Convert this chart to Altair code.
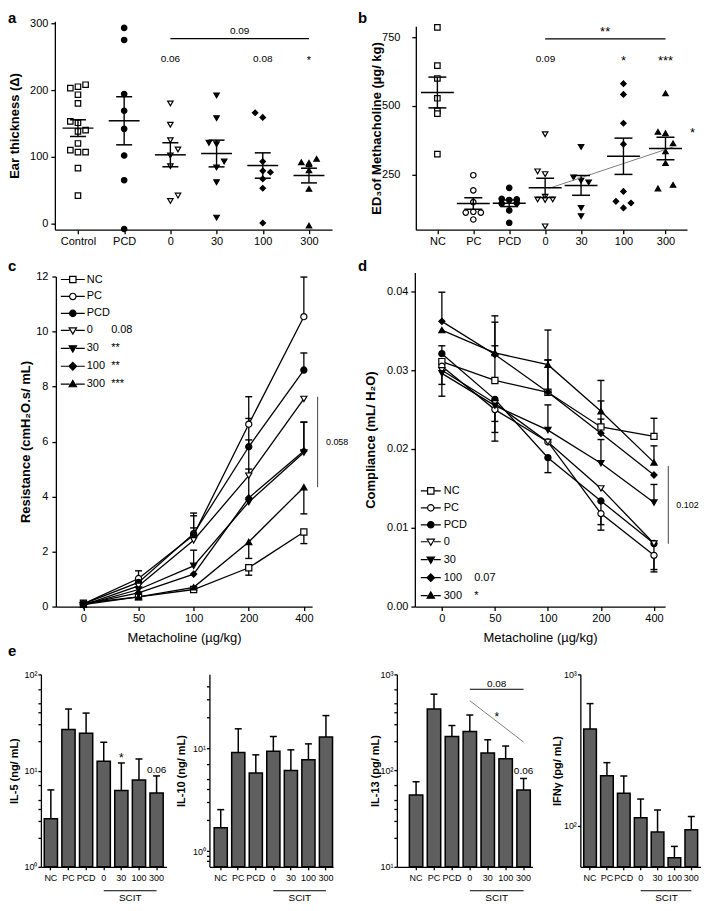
import math
import altair as alt
import pandas as pd

FONT = "Liberation Sans"
FSP = "\u2007"  # figure space (digit width), keeps legend stat columns aligned

# ---------------- panel a : ear thickness ----------------
a_groups = ["Control", "PCD", "0", "30", "100", "300"]
a_shapes = ["square", "circle", "triangle-down", "triangle-down", "diamond", "triangle-up"]
a_fills = ["white", "black", "white", "black", "black", "black"]
a_control = [203, 205, 208, 193, 180, 153, 151, 140, 138, 120, 110, 107, 107, 83, 42]
a_control_slot = [-1, 0, 1, 0, 0, -1, 0, 1, 0, 0, -1, 0, 1, 0, 0]
a_pcd = [293, 275, 194, 169, 142, 102, 65, -8]
a_pcd_slot = [0, 0, 0, 0, 0, 0, 0, 0]
a_d0 = [180, 148, 125, 111, 102, 86, 42, 34]
a_d0_slot = [0, 0, 0, 1, 0, 0, 1, 0]
a_d30 = [192, 158, 121, 119, 93, 84, 62, 9]
a_d30_slot = [0, 0, -1, 0, 1, 0, 0, 0]
a_d100 = [166, 159, 93, 79, 77, 67, 53, 1]
a_d100_slot = [-1, 0, 0, 0, 1, 0, 0, 0]
a_d300 = [92, 91, 97, 89, 80, 52, -3]
a_d300_slot = [-1, 0, 1, 0, 0, 0, 0]
a_mean = [143, 154, 103, 105, 87, 72]
a_sem = [12.5, 36, 18, 20, 19, 11]
a_notes = ["0.09", "0.06", "0.08", "*"]
a_note_x = [3.5, 2, 4, 5]
a_note_y = [289, 247, 247, 243]
a_note_fs = [10, 10, 10, 11]
a_bracket = [2, 5, 277]

# ---------------- panel b : ED3 of methacholine ----------------
b_groups = ["NC", "PC", "PCD", "0", "30", "100", "300"]
b_pos = [0, 1, 2, 3, 4, 5.18, 6.35]
b_shapes = ["square", "circle", "circle", "triangle-down", "triangle-down", "diamond", "triangle-up"]
b_fills = ["white", "white", "black", "white", "black", "black", "black"]
b_nc = [786, 647, 600, 528, 482, 472, 325]
b_nc_slot = [0, 0, 0, 0, 0, 0, 0]
b_pc = [248, 193, 150, 112, 115, 112, 87]
b_pc_slot = [0, 0, 0, -1, 0, 1, 0]
b_pcd = [202, 162, 160, 158, 145, 147, 120, 75]
b_pcd_slot = [0, -1, 1, 0, -1, 1, 0, 0]
b_d0 = [397, 262, 252, 170, 160, 158, 160, 62]
b_d0_slot = [0, -1, 0, 0, -1, 0, 1, 0]
b_d30 = [351, 240, 228, 222, 129, 99]
b_d30_slot = [0, -1, 0, 1, 0, 0]
b_d100 = [581, 542, 437, 361, 189, 153, 129, 147]
b_d100_slot = [0, 0, 0, 0, 0, -1, 0, 1]
b_d300 = [546, 406, 401, 364, 335, 292, 200, 213]
b_d300_slot = [0, -1, 0, 1, 0, 0, -1, 1]
b_mean = [549, 145, 146, 202, 211, 317, 345]
b_sem = [56, 21, 12, 35, 36, 66, 41]
b_notes = ["**", "0.09", "*", "***", "*"]
b_note_x = [4.67, 3.01, 5.18, 6.35, 7.1]
b_note_y = [770, 669, 662, 662, 402]
b_note_fs = [13, 10, 13, 13, 13]
b_bracket = [3, 6, 744]
b_trend_x = [3.1, 6.57]
b_trend_y = [200, 351]

# ---------------- panel c : resistance ----------------
doses = ["0", "50", "100", "200", "400"]
cd_groups = ["NC", "PC", "PCD", "0", "30", "100", "300"]
cd_shapes = ["square", "circle", "circle", "triangle-down", "triangle-down", "diamond", "triangle-up"]
cd_fills = ["white", "white", "black", "white", "black", "black", "black"]
c_nc = [0.12, 0.35, 0.62, 1.41, 2.71]
c_pc = [0.10, 1.02, 2.60, 6.63, 10.54]
c_pcd = [0.10, 0.88, 2.65, 5.81, 8.60]
c_d0 = [0.05, 0.75, 2.41, 4.76, 7.55]
c_d30 = [0.05, 0.62, 1.48, 3.80, 5.60]
c_d100 = [0.08, 0.50, 1.18, 3.95, 5.66]
c_d300 = [0.07, 0.35, 0.70, 2.35, 4.34]
c_nc_err = [0, 0, 0, -0.27, -0.42]
c_pc_err = [0, 0.28, 0.80, 1.00, 1.44]
c_pcd_err = [0, 0, 0.65, 1.03, 0.62]
c_d0_err = [0, 0, 0.45, 1.30, 0]
c_d30_err = [0, 0, 0.57, 1.20, 1.10]
c_d100_err = [0, 0, 0, 0, 1.05]
c_d300_err = [0, 0, 0, -0.60, -0.97]
c_leg_labels = ["NC", "PC", "PCD", "0" + FSP * 3 + "0.08", "30" + FSP * 2 + "**",
                "100" + FSP + "**", "300" + FSP + "***"]
c_sig_range = [4.34, 7.63]
c_sig_x = 4.25
c_sig_text = "0.058"

# ---------------- panel d : compliance ----------------
d_nc = [0.0311, 0.0287, 0.0272, 0.0228, 0.0216]
d_pc = [0.0305, 0.0250, 0.0209, 0.0118, 0.0065]
d_pcd = [0.0321, 0.0263, 0.0189, 0.0134, 0.0080]
d_d0 = [0.0300, 0.0258, 0.0209, 0.0150, 0.0080]
d_d30 = [0.0296, 0.0255, 0.0224, 0.0182, 0.0132]
d_d100 = [0.0362, 0.0320, 0.0272, 0.0220, 0.0167]
d_d300 = [0.0351, 0.0322, 0.0307, 0.0248, 0.0183]
d_nc_err = [0, 0.0044, 0.0041, 0.0010, 0.0023]
d_pc_err = [-0.0023, -0.0040, 0, -0.0021, -0.0021]
d_pcd_err = [0.0010, -0.0028, -0.0019, -0.0030, -0.0033]
d_d0_err = [0, -0.0037, 0, 0, 0]
d_d30_err = [-0.0029, 0, 0.0032, 0.0030, 0.0023]
d_d100_err = [0.0037, 0.0041, 0.0041, 0.0041, 0]
d_d300_err = [0, 0.0047, 0.0044, 0.0039, 0.0021]
d_leg_labels = ["NC", "PC", "PCD", "0", "30", "100" + FSP * 2 + "0.07", "300" + FSP * 2 + "*"]
d_sig_range = [0.00797, 0.01785]
d_sig_x = 4.27
d_sig_text = "0.102"

# ---------------- panel e : cytokines ----------------
e_cats = ["NC", "PC", "PCD", "0", "30", "100", "300"]
il5 = [3.16, 26.7, 24.5, 12.5, 6.2, 8.0, 5.85]
il5_top = [6.3, 43.6, 39.6, 19.7, 12.0, 13.2, 8.8]
il10 = [1.69, 9.09, 5.73, 9.35, 6.08, 7.71, 12.8]
il10_top = [2.53, 15.4, 8.61, 13.0, 9.63, 11.0, 20.7]
il13 = [55.7, 437, 226, 255, 152, 133, 62.8]
il13_top = [76.6, 622, 294, 378, 209, 180, 82.8]
ifng = [435, 214, 164, 113, 90.7, 61.3, 94.2]
ifng_top = [641, 261, 213, 150, 127, 73, 115]


def label_expr(names, positions):
    arr = ",".join("'%s'" % n for n in names)
    ps = ",".join(repr(float(p)) for p in positions)
    return "[%s][indexof([%s], datum.value)]" % (arr, ps)


def letter_layer(letter, lx, ly):
    return alt.Chart(pd.DataFrame({"t": [letter]})).mark_text(
        fontSize=15, fontWeight="bold", align="left", baseline="middle", font=FONT, color="black").encode(
        text="t:N", x=alt.value(lx), y=alt.value(ly))


def scatter_panel(groups, pos, shapes, fills, values, slots, jit, mean, sem,
                  xdom, xrange, ydom, yrange, yticks, ytitle, width, height, mean_len, cap_len, psize,
                  notes, note_x, note_y, note_fs, bracket, letter, lx, ly,
                  lab_pad, tit_pad, yoffset=0, trend=None):
    rows = []
    for g, p, vs, ss in zip(groups, pos, values, slots):
        for v, s in zip(vs, ss):
            rows.append({"grp": g, "x": p + s * jit, "v": v})
    df = pd.DataFrame(rows)
    st = pd.DataFrame({"x": pos, "v": mean,
                       "lo": [m - s for m, s in zip(mean, sem)],
                       "hi": [m + s for m, s in zip(mean, sem)]})
    nt = pd.DataFrame({"x": note_x, "v": note_y, "t": notes, "fs": note_fs})
    br = pd.DataFrame({"x": [pos[bracket[0]]], "x2": [pos[bracket[1]]], "v": [bracket[2]]})
    xs = alt.Scale(domain=xdom, nice=False, zero=False, range=xrange)
    ys = alt.Scale(domain=ydom, nice=False, zero=False, range=yrange)
    xax = alt.Axis(values=list(pos), labelExpr=label_expr(groups, pos), title=None,
                   labelOverlap=False, tickSize=4, labelPadding=2)
    yax = alt.Axis(values=yticks, title=ytitle, labelPadding=lab_pad, titlePadding=tit_pad, offset=yoffset)

    def X(f):
        return alt.X(f + ":Q", scale=xs, axis=xax)

    def Y(f):
        return alt.Y(f + ":Q", scale=ys, axis=yax)

    pts = alt.Chart(df).mark_point(size=psize, stroke="black", strokeWidth=1.2, opacity=1).encode(
        x=X("x"), y=Y("v"),
        shape=alt.Shape("grp:N", scale=alt.Scale(domain=groups, range=shapes), legend=None),
        fill=alt.Fill("grp:N", scale=alt.Scale(domain=groups, range=fills), legend=None))
    rule = alt.Chart(st).mark_rule(color="black", strokeWidth=1.4).encode(x=X("x"), y=Y("lo"), y2="hi:Q")
    mtick = alt.Chart(st).mark_tick(orient="horizontal", size=mean_len, thickness=1.5,
                                    color="black", opacity=1).encode(x=X("x"), y=Y("v"))
    lo_cap = alt.Chart(st).mark_tick(orient="horizontal", size=cap_len, thickness=1.5,
                                     color="black", opacity=1).encode(x=X("x"), y=Y("lo"))
    hi_cap = alt.Chart(st).mark_tick(orient="horizontal", size=cap_len, thickness=1.5,
                                     color="black", opacity=1).encode(x=X("x"), y=Y("hi"))
    brk = alt.Chart(br).mark_rule(color="black", strokeWidth=1.2).encode(x=X("x"), x2="x2:Q", y=Y("v"))
    txt = alt.Chart(nt).mark_text(color="black", font=FONT, baseline="middle").encode(
        x=X("x"), y=Y("v"), text="t:N", size=alt.Size("fs:Q", scale=None))
    layers = [pts]
    if trend is not None:
        td = pd.DataFrame({"x": trend[0], "v": trend[1]})
        layers.append(alt.Chart(td).mark_line(color="#808080", strokeWidth=1).encode(x=X("x"), y=Y("v")))
    layers += [rule, mtick, lo_cap, hi_cap, brk, txt, letter_layer(letter, lx, ly)]
    return alt.layer(*layers).properties(width=width, height=height)


def legend_paths(m, ext):
    def f(x):
        return ("%.3f" % x).rstrip("0").rstrip(".")
    L = "M%s,0H%sM%s,0H%s" % (f(-ext), f(-m), f(m), f(ext))
    sq = "M%s,%sH%sV%sH%sZ" % (f(-m), f(-m), f(m), f(m), f(-m))
    ci = "M%s,0A%s,%s 0 1,0 %s,0A%s,%s 0 1,0 %s,0Z" % (f(-m), f(m), f(m), f(m), f(m), f(m), f(-m))
    td = "M%s,%sH%sL0,%sZ" % (f(-1.15 * m), f(-0.8 * m), f(1.15 * m), f(1.15 * m))
    di = "M0,%sL%s,0L0,%sL%s,0Z" % (f(-1.2 * m), f(1.2 * m), f(1.2 * m), f(-1.2 * m))
    tu = "M%s,%sH%sL0,%sZ" % (f(-1.15 * m), f(0.8 * m), f(1.15 * m), f(-1.15 * m))
    return [L + sq, L + ci, L + ci, L + td, L + td, L + di, L + tu]


def curve_panel(series, errs, xdom, xrange, ydom, yrange, yticks, yfmt, ytitle, width, height,
                leg_labels, leg_x, leg_y, leg_ext, leg_laboff,
                sig_x, sig_range, sig_text, letter, lx, ly, lab_pad, tit_pad, yoffset=0):
    rows = []
    for g, vals, es in zip(cd_groups, series, errs):
        for i, (v, e) in enumerate(zip(vals, es)):
            rows.append({"grp": g, "x": i, "v": v, "top": v + e, "e": e})
    df = pd.DataFrame(rows)
    pos = list(range(len(doses)))
    xs = alt.Scale(domain=xdom, nice=False, zero=False, range=xrange)
    ys = alt.Scale(domain=ydom, nice=False, zero=False, range=yrange)
    xax = alt.Axis(values=pos, labelExpr=label_expr(doses, pos), title="Metacholine (\u00b5g/kg)",
                   titleFontWeight="normal", titleFontSize=13, labelOverlap=False,
                   tickSize=4, labelPadding=2, titlePadding=8)
    yax = alt.Axis(values=yticks, format=yfmt, title=ytitle, labelPadding=lab_pad,
                   titlePadding=tit_pad, offset=yoffset)

    def X(f):
        return alt.X(f + ":Q", scale=xs, axis=xax)

    def Y(f):
        return alt.Y(f + ":Q", scale=ys, axis=yax)

    lines = alt.Chart(df).mark_line(color="black", strokeWidth=1.3).encode(
        x=X("x"), y=Y("v"), detail="grp:N")
    edf = df[df["e"] != 0]
    ebar = alt.Chart(edf).mark_rule(color="black", strokeWidth=1.3).encode(x=X("x"), y=Y("v"), y2="top:Q")
    ecap = alt.Chart(edf).mark_tick(orient="horizontal", size=7, thickness=1.4, color="black",
                                    opacity=1).encode(x=X("x"), y=Y("top"))
    pts = alt.Chart(df).mark_point(size=38, stroke="black", strokeWidth=1.2, opacity=1).encode(
        x=X("x"), y=Y("v"),
        shape=alt.Shape("grp:N", scale=alt.Scale(domain=cd_groups, range=cd_shapes), legend=None),
        fill=alt.Fill("grp:N", scale=alt.Scale(domain=cd_groups, range=cd_fills), legend=None))
    leg = alt.Legend(orient="none", legendX=leg_x, legendY=leg_y, direction="vertical", title=None,
                     symbolSize=400, symbolStrokeWidth=1.2, symbolStrokeColor="black",
                     labelFont=FONT, labelFontSize=11, labelColor="black", labelOffset=leg_laboff,
                     rowPadding=0, padding=0,
                     labelExpr="[%s][indexof([%s], datum.label)]" % (
                         ",".join("'%s'" % s for s in leg_labels),
                         ",".join("'%s'" % s for s in cd_groups)))
    legl = alt.Chart(df).transform_filter("false").mark_point(strokeWidth=1.2, opacity=1).encode(
        x=X("x"), y=Y("v"),
        shape=alt.Shape("grp:N", scale=alt.Scale(domain=cd_groups, range=legend_paths(0.32, leg_ext)),
                        legend=leg),
        fill=alt.Fill("grp:N", scale=alt.Scale(domain=cd_groups, range=cd_fills), legend=leg),
        stroke=alt.Stroke("grp:N", scale=alt.Scale(domain=cd_groups, range=["black"] * 7), legend=leg))
    sdf = pd.DataFrame({"x": [sig_x], "v": [sig_range[0]], "v2": [sig_range[1]],
                        "tx": [sig_x + 0.15], "tv": [(sig_range[0] + sig_range[1]) / 2], "t": [sig_text]})
    srule = alt.Chart(sdf).mark_rule(color="#444444", strokeWidth=1).encode(x=X("x"), y=Y("v"), y2="v2:Q")
    stext = alt.Chart(sdf).mark_text(align="left", baseline="middle", fontSize=9, color="black").encode(
        x=X("tx"), y=Y("tv"), text="t:N")
    return alt.layer(lines, ebar, ecap, pts, legl, srule, stext, letter_layer(letter, lx, ly)).resolve_scale(
        shape="independent", fill="independent", stroke="independent").properties(width=width, height=height)


SUP = {0: "\u2070", 1: "\u00b9", 2: "\u00b2", 3: "\u00b3"}


def log_label_expr(majors):
    parts = ["datum.value == %s ? '10%s'" % (repr(m), SUP[int(round(math.log10(m)))]) for m in majors]
    return " : ".join(parts) + " : ''"


E_H = 193


def bar_panel(vals, tops, dom, majors, minors, ytitle, width, pad_outer, align,
              tit_pad, letter=None, notes=None, extra=None):
    H = E_H
    df = pd.DataFrame({"cat": e_cats, "v": vals, "top": tops})
    xs = alt.Scale(domain=e_cats, paddingInner=0.25, paddingOuter=pad_outer, align=align)
    xax = alt.Axis(title=None, labelAngle=0, labelFontSize=9, labelOverlap=False, tickSize=3, labelPadding=4)
    ys = alt.Scale(type="log", domain=dom, nice=False)
    yax = alt.Axis(values=majors + minors, labelExpr=log_label_expr(majors), title=ytitle,
                   titleFontSize=11, labelFontSize=9, tickSize=3, labelPadding=1,
                   titlePadding=tit_pad, labelOverlap=False)

    def X():
        return alt.X("cat:N", scale=xs, axis=xax)

    def Y(f):
        return alt.Y(f + ":Q", scale=ys, axis=yax)

    err = alt.Chart(df).mark_rule(color="black", strokeWidth=1.5).encode(x=X(), y=Y("v"), y2="top:Q")
    bars = alt.Chart(df).mark_bar(fill="#5f5f5f", stroke="black", strokeWidth=1.5).encode(
        x=X(), y=Y("v"), y2=alt.Y2Datum(dom[0]))
    cap = alt.Chart(df).mark_tick(orient="horizontal", size=7, thickness=1.5, color="black",
                                  opacity=1).encode(x=X(), y=Y("top"))
    scit = alt.Chart(pd.DataFrame({"cat": ["0", "300"]})).mark_line(color="black", strokeWidth=1).encode(
        x=X(), y=alt.value(H + 24))
    scit_t = alt.Chart(pd.DataFrame({"cat": ["30"], "t": ["SCIT"]})).mark_text(
        fontSize=10, dx=9, baseline="middle", color="black").encode(x=X(), y=alt.value(H + 31), text="t:N")
    layers = [err, bars, cap, scit, scit_t]
    if notes is not None:
        nd = pd.DataFrame({"cat": notes[0], "v": notes[1], "t": notes[2], "fs": notes[3]})
        layers.append(alt.Chart(nd).mark_text(baseline="middle", color="black").encode(
            x=X(), y=Y("v"), text="t:N", size=alt.Size("fs:Q", scale=None)))
    if extra is not None:
        for kind, cats, vs, txt, color in extra:
            d = pd.DataFrame({"cat": cats, "v": vs, "t": [txt] * len(cats)})
            if kind == "line":
                layers.append(alt.Chart(d).mark_line(color=color, strokeWidth=1).encode(x=X(), y=Y("v")))
            else:
                layers.append(alt.Chart(d).mark_text(baseline="middle", dx=9, fontSize=kind,
                                                     color="black").encode(
                    x=X(), y=Y("v"), text="t:N"))
    if letter is not None:
        layers.append(letter_layer(*letter))
    return alt.layer(*layers).properties(width=width, height=H)


# ---------------- build panels ----------------
panel_a = scatter_panel(
    a_groups, list(range(6)), a_shapes, a_fills,
    [a_control, a_pcd, a_d0, a_d30, a_d100, a_d300],
    [a_control_slot, a_pcd_slot, a_d0_slot, a_d30_slot, a_d100_slot, a_d300_slot],
    0.165, a_mean, a_sem, [-0.5, 5.5], [14, 292], [-9, 303], [209, 0], [0, 100, 200, 300],
    "Ear thickness (\u0394)",
    292, 209, 31, 16, 30, a_notes, a_note_x, a_note_y, a_note_fs, a_bracket,
    "a", -33, -3, 3, 8.5, yoffset=-14)

panel_b = scatter_panel(
    b_groups, b_pos, b_shapes, b_fills,
    [b_nc, b_pc, b_pcd, b_d0, b_d30, b_d100, b_d300],
    [b_nc_slot, b_pc_slot, b_pcd_slot, b_d0_slot, b_d30_slot, b_d100_slot, b_d300_slot],
    0.21, b_mean, b_sem, [-0.6, 6.95], [0, 272], [50, 790], [209, 5], [250, 500, 750],
    "ED\u2083of Methacholine (\u00b5g/ kg)",
    272, 209, 33, 18, 30, b_notes, b_note_x, b_note_y, b_note_fs, b_bracket,
    "b", -58, -3, 12, -2, trend=(b_trend_x, b_trend_y))

panel_c = curve_panel(
    [c_nc, c_pc, c_pcd, c_d0, c_d30, c_d100, c_d300],
    [c_nc_err, c_pc_err, c_pcd_err, c_d0_err, c_d30_err, c_d100_err, c_d300_err],
    [-0.5, 4.15], [15, 272], [0, 12], [335, 4], [0, 2, 4, 6, 8, 10, 12], "d",
    "Resistance (cmH\u2082O.s/ mL)",
    272, 335, c_leg_labels, 21, -4, 1.2, 3,
    c_sig_x, c_sig_range, c_sig_text, "c", -33, -7, 4, 3.5, yoffset=-15)

panel_d = curve_panel(
    [d_nc, d_pc, d_pcd, d_d0, d_d30, d_d100, d_d300],
    [d_nc_err, d_pc_err, d_pcd_err, d_d0_err, d_d30_err, d_d100_err, d_d300_err],
    [-0.51, 4.21], [0, 251], [0, 0.0424], [335, 0], [0, 0.01, 0.02, 0.03, 0.04], ".2f",
    "Compliance (mL/ H\u2082O)",
    251, 335, d_leg_labels, 5, 208, 1.0, 2,
    d_sig_x, d_sig_range, d_sig_text, "d", -57, -7, 3, 9)

panel_e1 = bar_panel(il5, il5_top, [1, 100], [1, 10, 100], [2, 3, 4, 5, 7, 20, 30, 40, 50, 70],
                     "IL-5 (ng/ mL)", 126, 0.19, 0.5, 4.5,
                     letter=("e", -33, -23),
                     notes=(["30", "300"], [13.5, 10.2], ["*", "0.06"], [12, 10]))
panel_e2 = bar_panel(il10, il10_top, [0.705, 52], [1, 10], [0.8, 0.9, 2, 3, 4, 5, 7, 20, 30, 40],
                     "IL-10 (ng/ mL)", 124, 0.15, 0.9, 5.5)
panel_e3 = bar_panel(il13, il13_top, [10, 1000], [10, 100, 1000],
                     [20, 30, 40, 50, 70, 200, 300, 400, 500, 700],
                     "IL-13 (pg/ mL)", 136, 0.41, 0.85, -0.5,
                     notes=(["300"], [99], ["0.06"], [10]),
                     extra=[("line", ["0", "300"], [700, 700], "", "black"),
                            ("line", ["0", "300"], [532, 198], "", "#808080"),
                            (10, ["30"], [789], "0.08", None),
                            (12, ["30"], [361], "*", None)])
panel_e4 = bar_panel(ifng, ifng_top, [53.5, 1000], [100, 1000], [],
                     "IFN\u03b3 (pg/ mL)", 121, 0.2, 0.5, 0.5)

row1 = alt.hconcat(panel_a, panel_b, spacing=26).resolve_scale(shape="independent", fill="independent")
row2 = alt.hconcat(panel_c, panel_d, spacing=9).resolve_scale(
    shape="independent", fill="independent", stroke="independent")
row3 = alt.hconcat(alt.hconcat(panel_e1, panel_e2, spacing=9),
                   alt.hconcat(panel_e3, panel_e4, spacing=18), spacing=35)
upper = alt.vconcat(row1, row2, spacing=12).resolve_scale(
    shape="independent", fill="independent", stroke="independent")
chart = alt.vconcat(upper, row3, spacing=0,
                    padding={"top": 2, "left": 0, "right": 0, "bottom": 0}).resolve_scale(
    shape="independent", fill="independent", stroke="independent")

chart = (chart
         .configure_view(stroke=None)
         .configure_axis(domainColor="black", domainWidth=1.3, tickColor="black", tickWidth=1.3,
                         tickSize=4, labelFont=FONT, labelFontSize=11, labelColor="black",
                         titleFont=FONT, titleFontSize=13, titleFontWeight="bold", titleColor="black",
                         grid=False)
         .configure_text(font=FONT, color="black")
         .configure_legend(labelFont=FONT, labelColor="black"))

chart.save("out.html", embed_options={"renderer": "svg", "actions": False})
